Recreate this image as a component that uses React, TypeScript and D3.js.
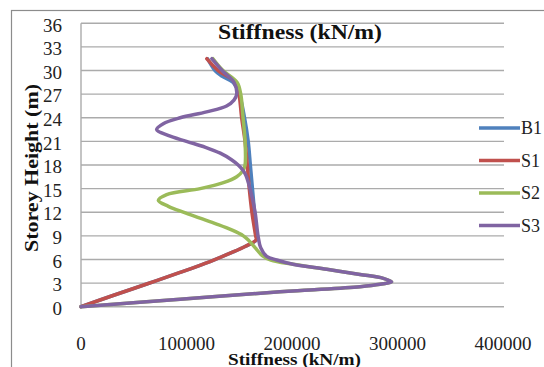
import React from 'react';
import * as d3 from 'd3';

const yTicks = [0, 3, 6, 9, 12, 15, 18, 21, 24, 27, 30, 33, 36];
const xTicks = [0, 100000, 200000, 300000, 400000];
const seriesNames = ['B1', 'S1', 'S2', 'S3'];
const seriesColors = ['#4F81BD', '#C0504D', '#9BBB59', '#8064A2'];

const b1Heights = [0, 1.42, 2.88, 4.35, 5.74, 6.89, 7.65, 8.5, 9, 12, 15, 18, 21, 24, 27, 28.5, 29.3, 30, 31.5];
const b1Values = [0, 30300, 62300, 93900, 122300, 143100, 155500, 166500, 166500, 164500, 162500, 160500, 158500, 155000, 150000, 144000, 133400, 127000, 120000];

const s1Heights = [0, 1.42, 2.88, 4.35, 5.74, 6.89, 7.65, 8.5, 9, 12, 15, 18, 21, 24, 27, 28.5, 30, 31.5];
const s1Values = [0, 30300, 62300, 93900, 122300, 143100, 155500, 166000, 165500, 162000, 159500, 157600, 155500, 152300, 149800, 147000, 130000, 119200];

const s2Heights = [0, 0.94, 1.9, 2.12, 2.54, 2.84, 3.15, 3.6, 4.1, 4.75, 5.39, 5.93, 6.5, 7.5, 8.47, 9, 9.75, 10.5, 11.25, 12, 12.75, 13.5, 14.25, 15, 15.75, 16.5, 17.25, 18, 21, 24, 27, 28.5, 30, 31.5];
const s2Values = [0, 94000, 188600, 217000, 264500, 283500, 294500, 286600, 264500, 233000, 201000, 180000, 171800, 165000, 158600, 153900, 142800, 128600, 112800, 97000, 82800, 73300, 81200, 113000, 135000, 147600, 153300, 155500, 155500, 153600, 151400, 148000, 134600, 125100];

const s3Heights = [0, 0.94, 1.9, 2.12, 2.54, 2.84, 3.15, 3.6, 4.1, 4.75, 5.39, 5.93, 6.4, 7.5, 9, 12, 15, 16.65, 17.25, 18, 18.64, 19.5, 20.25, 21, 21.75, 22.5, 23.25, 24, 24.75, 25.5, 26.25, 27, 28.5, 30, 31.5];
const s3Values = [0, 94000, 188600, 217000, 264500, 283500, 294500, 286600, 264500, 233000, 201000, 185500, 176000, 170300, 167800, 165000, 160200, 156400, 154000, 149000, 143000, 132000, 118000, 100000, 82500, 71700, 78000, 94000, 119000, 138000, 145000, 147600, 145000, 133700, 124000];

const seriesHeights = [b1Heights, s1Heights, s2Heights, s3Heights];
const seriesValues = [b1Values, s1Values, s2Values, s3Values];

const W = 544;
const H = 367;
const FONT = '"Liberation Serif", "Times New Roman", serif';

export default function App() {
  const x = d3.scaleLinear().domain([0, 400000]).range([81, 503]);
  const y = d3.scaleLinear().domain([0, 36]).range([306.7, 23.3]);

  const line = d3
    .line<[number, number]>()
    .x((d) => x(d[1]))
    .y((d) => y(d[0]))
    .curve(d3.curveCatmullRom.alpha(0.5));

  const paths = seriesNames.map((name, i) => {
    const pts: [number, number][] = seriesHeights[i].map((h, j) => [h, seriesValues[i][j]] as [number, number]);
    return line(pts) || '';
  });

  const legendY = [128, 160.5, 193, 225.5];

  return (
    <svg
      width={W}
      height={H}
      style={{ position: 'absolute', left: 0, top: 0, background: '#fff', fontFamily: FONT }}
    >
      <rect x={0} y={0} width={W} height={H} fill="#fff" />
      <rect x={11.5} y={10.5} width={700} height={500} fill="none" stroke="#8c8c8c" strokeWidth={1.2} />
      {yTicks.map((t) => (
        <line key={'g' + t} x1={81} x2={504} y1={y(t)} y2={y(t)} stroke="#ababab" strokeWidth={1.4} />
      ))}
      <line x1={81} x2={81} y1={y(36)} y2={y(0)} stroke="#ababab" strokeWidth={1.4} />
      {yTicks.map((t) => (
        <text key={'yl' + t} x={62} y={y(t) + 8.2} textAnchor="end" fontSize={19} fill="#222" style={{ fontFamily: FONT }}>
          {t}
        </text>
      ))}
      {xTicks.map((t) => (
        <text key={'xl' + t} x={x(t)} y={349.5} textAnchor="middle" fontSize={19} fill="#222" style={{ fontFamily: FONT }}>
          {t}
        </text>
      ))}
      {paths.map((p, i) => (
        <path key={seriesNames[i]} d={p} fill="none" stroke={seriesColors[i]} strokeWidth={3.5} strokeLinejoin="round" strokeLinecap="round" />
      ))}
      <text x={218} y={38.5} fontSize={21} fontWeight="bold" fill="#111" textLength={164} lengthAdjust="spacingAndGlyphs" style={{ fontFamily: FONT }}>
        Stiffness (kN/m)
      </text>
      <text x={228} y={365} fontSize={16} fontWeight="bold" fill="#111" textLength={133} lengthAdjust="spacingAndGlyphs" style={{ fontFamily: FONT }}>
        Stiffness (kN/m)
      </text>
      <text
        transform={`translate(37.5, 252) rotate(-90)`}
        x={0}
        y={0}
        fontSize={18}
        fontWeight="bold"
        fill="#111"
        textLength={168}
        lengthAdjust="spacingAndGlyphs"
        style={{ fontFamily: FONT }}
      >
        Storey Height (m)
      </text>
      {seriesNames.map((name, i) => (
        <g key={'lg' + name}>
          <line x1={479} x2={520} y1={legendY[i]} y2={legendY[i]} stroke={seriesColors[i]} strokeWidth={3.5} />
          <text x={521} y={legendY[i] + 6} fontSize={18} fill="#222" style={{ fontFamily: FONT }}>
            {name}
          </text>
        </g>
      ))}
    </svg>
  );
}
